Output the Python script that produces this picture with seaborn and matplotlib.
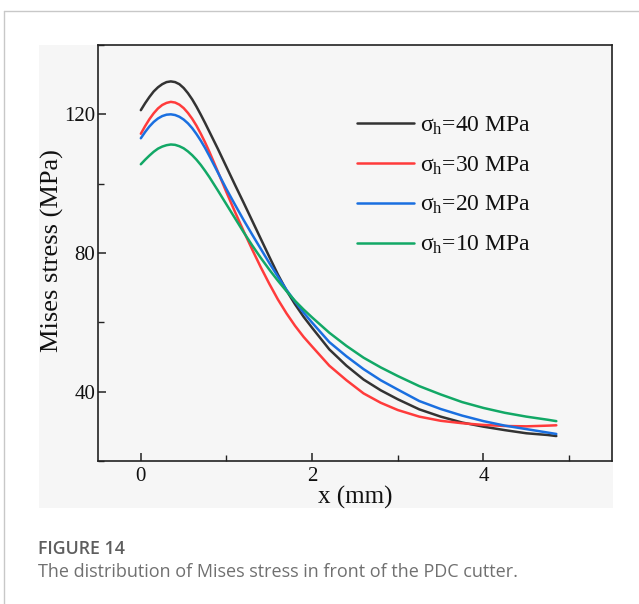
import matplotlib
matplotlib.use("Agg")
import matplotlib.pyplot as plt
import seaborn as sns
import pandas as pd
from matplotlib.patches import Rectangle
from matplotlib.lines import Line2D
from matplotlib.ticker import MultipleLocator

# ---------------- data ----------------
x_mm = [0, 0.05, 0.1, 0.15, 0.2, 0.25, 0.3, 0.35, 0.4, 0.45, 0.5, 0.55, 0.6, 0.65,
        0.7, 0.75, 0.8, 0.9, 1.0, 1.1, 1.2, 1.3, 1.4, 1.5, 1.6, 1.7, 1.8, 1.9, 2.0,
        2.2, 2.4, 2.6, 2.8, 3.0, 3.25, 3.5, 3.75, 4.0, 4.25, 4.5, 4.75, 4.85]

s40 = [121.2, 123.2, 125.0, 126.6, 127.8, 128.7, 129.3, 129.5, 129.3, 128.7, 127.6,
       126.1, 124.3, 122.2, 119.9, 117.5, 115.0, 110.0, 104.8, 99.6, 94.5, 89.3,
       84.1, 78.9, 73.8, 69.2, 65.2, 61.6, 58.4,
       52.2, 47.5, 43.5, 40.4, 37.8, 34.9, 32.8, 31.1, 29.9, 28.9, 28.0, 27.5, 27.2]
s30 = [114.4, 116.6, 118.6, 120.3, 121.7, 122.7, 123.3, 123.6, 123.4, 122.8, 121.8,
       120.4, 118.7, 116.7, 114.4, 111.9, 109.2, 103.4, 97.5, 91.8, 86.3, 81.0,
       75.9, 71.1, 66.6, 62.6, 59.0, 55.8, 53.0,
       47.5, 43.3, 39.5, 36.8, 34.7, 32.8, 31.6, 30.9, 30.4, 30.1, 30.0, 30.2, 30.3]
s20 = [113.1, 114.9, 116.5, 117.8, 118.8, 119.5, 119.9, 120.0, 119.8, 119.3, 118.5,
       117.4, 116.0, 114.3, 112.4, 110.3, 108.0, 103.2, 98.4, 93.9, 89.5, 85.3,
       81.2, 77.1, 73.2, 69.4, 66.0, 62.8, 59.9,
       54.3, 50.2, 46.5, 43.3, 40.6, 37.3, 35.0, 33.1, 31.5, 30.2, 29.2, 28.2, 27.8]
s10 = [105.6, 106.9, 108.1, 109.2, 110.1, 110.7, 111.1, 111.3, 111.2, 110.8, 110.2,
       109.3, 108.2, 106.9, 105.4, 103.7, 101.9, 98.0, 94.0, 90.0, 86.0, 82.2,
       78.6, 75.2, 72.0, 69.0, 66.2, 63.7, 61.4,
       57.0, 53.2, 49.8, 47.0, 44.5, 41.6, 39.2, 37.0, 35.3, 33.9, 32.8, 31.9, 31.5]

series_labels = ["σ$_{\\rm h}$=40 MPa", "σ$_{\\rm h}$=30 MPa",
                 "σ$_{\\rm h}$=20 MPa", "σ$_{\\rm h}$=10 MPa"]
series_values = [s40, s30, s20, s10]
series_colors = ["#333333", "#ff3b3b", "#1a6fe0", "#12a866"]

x_ticks = [0, 2, 4]
y_ticks = [40, 80, 120]
x_label = "x (mm)"
y_label = "Mises stress (MPa)"
cap_title = "FIGURE 14"
cap_text = "The distribution of Mises stress in front of the PDC cutter."

# ---------------- long-form table ----------------
rows = []
for lab, vals in zip(series_labels, series_values):
    for xv, yv in zip(x_mm, vals):
        rows.append({"x": xv, "stress": yv, "series": lab})
df = pd.DataFrame(rows)

# ---------------- style ----------------
sns.set_theme(style="ticks")
plt.rcParams["font.family"] = ["Liberation Serif", "DejaVu Serif"]
plt.rcParams["mathtext.fontset"] = "custom"
plt.rcParams["mathtext.rm"] = "Liberation Serif"
plt.rcParams["mathtext.it"] = "Liberation Serif:italic"

W, H = 639, 604
fig = plt.figure(figsize=(W / 100, H / 100), dpi=100)
fig.patch.set_facecolor("white")

# outer card border (top & left visible)
fig.add_artist(Line2D([4 / W, 1.0], [1 - 11 / H, 1 - 11 / H], transform=fig.transFigure,
                      color="#c8c8c8", lw=1.0))
fig.add_artist(Line2D([4 / W, 4 / W], [0, 1 - 11 / H], transform=fig.transFigure,
                      color="#c8c8c8", lw=1.0))
# faint grey image background
fig.add_artist(Rectangle((39 / W, 1 - 508 / H), (613 - 39) / W, (508 - 45) / H,
                         transform=fig.transFigure, facecolor="#f6f6f6",
                         edgecolor="none", zorder=0))

L, R, T, B = 98, 612, 45, 461
ax = fig.add_axes([L / W, 1 - B / H, (R - L) / W, (B - T) / H])
ax.set_facecolor("#f6f6f6")

sns.lineplot(data=df, x="x", y="stress", hue="series", hue_order=series_labels,
             palette=dict(zip(series_labels, series_colors)), linewidth=1.8,
             estimator=None, sort=False, ax=ax, legend=False)
for ln in ax.lines:
    ln.set_solid_joinstyle("round")
    ln.set_solid_capstyle("round")

ax.set_xlim(-0.5, 5.5)
ax.set_ylim(20, 140)
ax.set_xticks(x_ticks)
ax.set_yticks(y_ticks)
ax.xaxis.set_minor_locator(MultipleLocator(1))
ax.yaxis.set_minor_locator(MultipleLocator(20))
ax.tick_params(which="both", direction="in", top=False, right=False, colors="#222222",
               labelcolor="#111111")
ax.tick_params(which="major", length=6, width=1.1, labelsize=15)
ax.tick_params(axis="x", which="major", pad=4)
ax.tick_params(axis="y", which="major", pad=2)
ax.tick_params(which="minor", length=4, width=1.0)
for sp in ax.spines.values():
    sp.set_color("#222222")
    sp.set_linewidth(1.2)

ax.set_xlabel(x_label, fontsize=18, color="#111111", labelpad=0)
ax.set_ylabel(y_label, fontsize=19, color="#111111")
ax.yaxis.set_label_coords(-0.066, 0.505)

handles = [Line2D([], [], color=c, lw=1.8) for c in series_colors]
leg = ax.legend(handles, series_labels, loc="upper left", bbox_to_anchor=(0.503, 0.833),
                frameon=False, fontsize=17, handlelength=2.45, handletextpad=0.25,
                labelspacing=0.74, borderpad=0, borderaxespad=0)
for t in leg.get_texts():
    t.set_color("#111111")

# caption
fig.text(38 / W, 1 - 549 / H, cap_title, fontsize=12.8, color="#5e5e5e",
         family=["Open Sans", "DejaVu Sans"], fontweight="semibold", va="center", ha="left")
fig.text(38 / W, 1 - 572 / H, cap_text, fontsize=12.95, color="#707070",
         family=["Open Sans", "DejaVu Sans"], va="center", ha="left")

fig.savefig("out.png", dpi=100, facecolor="white")
